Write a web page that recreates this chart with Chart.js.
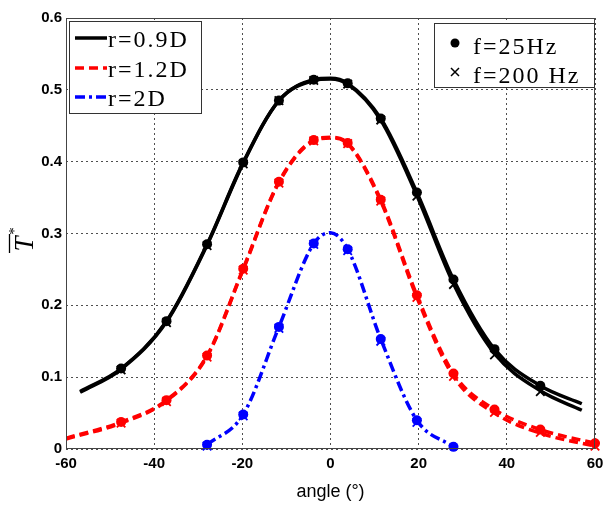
<!DOCTYPE html>
<html>
<head>
<meta charset="utf-8">
<script src="https://cdn.jsdelivr.net/npm/chart.js@4.4.1/dist/chart.umd.min.js"></script>
<style>
  html, body { margin: 0; padding: 0; background: #fff; }
  #wrap { width: 604px; height: 507px; }
</style>
</head>
<body>
<div id="wrap"><canvas id="chart"></canvas></div>
<script>
// ─── DATA ───────────────────────────────────────────────────────
// marker angles (deg)
const angles09 = [-47.5, -37.2, -28, -19.8, -11.7, -3.8, 3.9, 11.4, 19.6, 27.9, 37.2, 47.6];
const r09_f25  = [0.112, 0.178, 0.285, 0.399, 0.485, 0.514, 0.509, 0.460, 0.357, 0.236, 0.139, 0.088];
const r09_f200 = [0.110, 0.176, 0.283, 0.397, 0.485, 0.513, 0.508, 0.458, 0.352, 0.229, 0.131, 0.080];

const angles12 = [-47.5, -37.2, -28, -19.8, -11.7, -3.8, 3.9, 11.4, 19.6, 27.9, 37.2, 47.6, 60];
const r12_f25  = [0.0375, 0.068, 0.130, 0.251, 0.372, 0.430, 0.426, 0.347, 0.214, 0.105, 0.055, 0.027, 0.008];
const r12_f200 = [0.036, 0.066, 0.128, 0.249, 0.370, 0.429, 0.425, 0.345, 0.211, 0.101, 0.051, 0.023, 0.004];

const angles2  = [-28, -19.8, -11.7, -3.8, 3.9, 11.4, 19.6, 27.9];
const r2_f25   = [0.006, 0.048, 0.170, 0.286, 0.278, 0.153, 0.040, 0.003];
const angles2x = [-28, -19.8, -11.7, -3.8, 3.9, 11.4, 19.6];
const r2_f200  = [0.004, 0.046, 0.168, 0.285, 0.276, 0.150, 0.037];

// fitted curves
const curve09X = [-56.8, -47.5, -37.2, -28, -19.8, -11.7, -3.8, 0, 3.9, 11.4, 19.6, 27.9, 37.2, 47.6, 57];
const curve09a = [0.080, 0.112, 0.178, 0.285, 0.399, 0.485, 0.514, 0.516, 0.509, 0.460, 0.357, 0.236, 0.139, 0.088, 0.063];
const curve09b = [0.079, 0.111, 0.177, 0.284, 0.398, 0.485, 0.513, 0.515, 0.508, 0.458, 0.353, 0.230, 0.133, 0.081, 0.054];
const curve12X = [-60, -47.5, -37.2, -28, -19.8, -11.7, -3.8, 0, 3.9, 11.4, 19.6, 27.9, 37.2, 47.6, 60];
const curve12a = [0.015, 0.0375, 0.068, 0.130, 0.251, 0.372, 0.430, 0.434, 0.426, 0.347, 0.214, 0.105, 0.055, 0.027, 0.008];
const curve12b = [0.014, 0.036, 0.067, 0.129, 0.250, 0.371, 0.429, 0.433, 0.425, 0.345, 0.211, 0.101, 0.050, 0.022, 0.004];
const curve2X  = [-28, -19.8, -11.7, -3.8, 0, 3.9, 11.4, 19.6, 27.9];
const curve2   = [0.006, 0.048, 0.170, 0.286, 0.301, 0.278, 0.153, 0.040, 0.003];

const xTicks = [-60, -40, -20, 0, 20, 40, 60];
const yTicks = [0, 0.1, 0.2, 0.3, 0.4, 0.5, 0.6];

const seriesLabels = ["r=0.9D", "r=1.2D", "r=2D"];
const freqLabels = ["f=25Hz", "f=200 Hz"];

// ─── STYLE ──────────────────────────────────────────────────────
const COL = { k: "#000000", r: "#ff0000", b: "#0000ff" };
const DASH = { k: [], r: [9, 5], b: [10, 4, 3, 4] };
const SERIF = "'Liberation Serif', 'Times New Roman', serif";
const SANS = "'Liberation Sans', Arial, sans-serif";

const pts = (xs, ys) => xs.map((x, i) => ({ x, y: ys[i] }));

function curve(xs, ys, c) {
  return {
    data: pts(xs, ys), borderColor: COL[c], borderDash: DASH[c], borderWidth: 3.5,
    pointRadius: 0, showLine: true, cubicInterpolationMode: "monotone", fill: false,
  };
}
function dots(xs, ys, c) {
  return {
    data: pts(xs, ys), showLine: false, pointStyle: "circle", pointRadius: 5,
    pointBackgroundColor: COL[c], pointBorderColor: COL[c], pointBorderWidth: 0, clip: false,
  };
}
function crosses(xs, ys, c) {
  return {
    data: pts(xs, ys), showLine: false, pointStyle: "crossRot", pointRadius: 6,
    pointBorderColor: COL[c], pointBorderWidth: 1.8, clip: false,
  };
}

// ─── PLUGINS ────────────────────────────────────────────────────
const frame = {
  id: "frame",
  afterDatasetsDraw(chart) {
    const { ctx, chartArea: a } = chart;
    ctx.save();
    ctx.strokeStyle = "#444";
    ctx.lineWidth = 1;
    ctx.strokeRect(a.left + 0.5, a.top + 0.5, a.right - a.left - 1, a.bottom - a.top - 1);
    ctx.restore();
  },
  afterDraw(chart) {
    const { ctx } = chart;
    ctx.save();
    ctx.fillStyle = "#000";
    ctx.strokeStyle = "#000";
    ctx.font = "bold 15px " + SANS;
    ctx.textBaseline = "middle";

    // y-axis label: T-bar with superscript star
    ctx.translate(33, 244);
    ctx.rotate(-Math.PI / 2);
    ctx.font = "italic 27px " + SERIF;
    ctx.textAlign = "center";
    ctx.textBaseline = "alphabetic";
    ctx.fillText("T", 0, 0);
    ctx.lineWidth = 1.3;
    ctx.beginPath();
    ctx.moveTo(-9, -23.5);
    ctx.lineTo(10, -23.5);
    ctx.stroke();
    ctx.font = "15px " + SERIF;
    ctx.fillText("*", 13, -14);
    ctx.restore();

    // legend: line styles
    ctx.save();
    ctx.strokeStyle = "#333";
    ctx.lineWidth = 1;
    ctx.fillStyle = "#fff";
    ctx.fillRect(69, 21, 132, 92);
    ctx.strokeRect(69.5, 21.5, 132, 92);
    const rowY = [38, 68, 97];
    ["k", "r", "b"].forEach((c, i) => {
      ctx.strokeStyle = COL[c];
      ctx.lineWidth = 3.5;
      ctx.setLineDash(DASH[c]);
      ctx.beginPath();
      ctx.moveTo(75, rowY[i]);
      ctx.lineTo(107, rowY[i]);
      ctx.stroke();
    });
    ctx.setLineDash([]);
    ctx.fillStyle = "#000";
    ctx.font = "24px " + SERIF;
    ctx.letterSpacing = "2px";
    ctx.textBaseline = "alphabetic";
    ctx.textAlign = "left";
    seriesLabels.forEach((t, i) => ctx.fillText(t, 108, rowY[i] + 9));

    // legend: markers
    ctx.letterSpacing = "0px";
    ctx.strokeStyle = "#333";
    ctx.lineWidth = 1;
    ctx.fillStyle = "#fff";
    ctx.fillRect(434, 23, 160, 64);
    ctx.strokeRect(434.5, 23.5, 160, 64);
    ctx.fillStyle = "#000";
    ctx.beginPath();
    ctx.arc(455, 43, 4.5, 0, Math.PI * 2);
    ctx.fill();
    ctx.strokeStyle = "#000";
    ctx.lineWidth = 1.5;
    ctx.beginPath();
    ctx.moveTo(451, 68); ctx.lineTo(459, 76);
    ctx.moveTo(459, 68); ctx.lineTo(451, 76);
    ctx.stroke();
    ctx.font = "24px " + SERIF;
    ctx.letterSpacing = "2px";
    ctx.fillText(freqLabels[0], 473, 54);
    ctx.fillText(freqLabels[1], 473, 83);
    ctx.restore();
  },
};

// ─── CHART ──────────────────────────────────────────────────────
new Chart(document.getElementById("chart"), {
  type: "scatter",
  data: {
    datasets: [
      crosses(angles09, r09_f200, "k"),
      crosses(angles12, r12_f200, "r"),
      crosses(angles2x, r2_f200, "b"),
      dots(angles09, r09_f25, "k"),
      dots(angles12, r12_f25, "r"),
      dots(angles2, r2_f25, "b"),
      curve(curve2X, curve2, "b"),
      curve(curve12X, curve12a, "r"),
      curve(curve12X, curve12b, "r"),
      curve(curve09X, curve09a, "k"),
      curve(curve09X, curve09b, "k"),
    ],
  },
  options: {
    responsive: true,
    maintainAspectRatio: false,
    animation: false,
    events: [],
    layout: { padding: { top: 18, right: 9, left: 0, bottom: 0 } },
    plugins: { legend: { display: false }, tooltip: { enabled: false } },
    scales: {
      x: {
        type: "linear", min: -60, max: 60,
        afterBuildTicks: s => { s.ticks = xTicks.map(v => ({ value: v })); },
        afterFit: s => { s.height = 58; s.paddingLeft = 0; s.paddingRight = 0; },
        grid: { color: "#222", lineWidth: 0.8, drawTicks: false },
        border: { display: false, dash: [2, 3] },
        ticks: { color: "#000", padding: 6, font: { family: SANS, size: 15, weight: "bold" } },
        title: { display: true, text: "angle (°)", color: "#000", padding: { top: 0, bottom: 4 },
                 font: { family: SANS, size: 18 } },
      },
      y: {
        type: "linear", min: 0, max: 0.6,
        afterBuildTicks: s => { s.ticks = yTicks.map(v => ({ value: v })); },
        afterFit: s => { s.width = 66; s.paddingTop = 0; s.paddingBottom = 0; },
        grid: { color: "#222", lineWidth: 0.8, drawTicks: false },
        border: { display: false, dash: [2, 3] },
        ticks: { color: "#000", padding: 4, font: { family: SANS, size: 15, weight: "bold" },
                 callback: v => String(+v.toFixed(1)) },
      },
    },
  },
  plugins: [frame],
});
</script>
</body>
</html>
